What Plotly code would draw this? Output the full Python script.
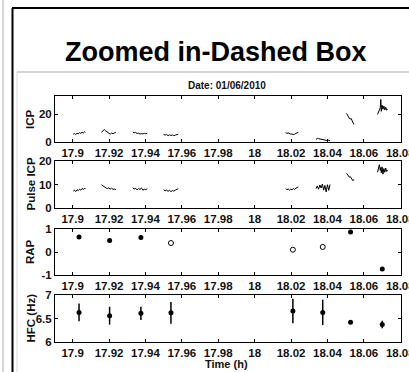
import plotly.graph_objects as go

# ---------------- data ----------------
x_tick_vals = [17.9, 17.92, 17.94, 17.96, 17.98, 18.0, 18.02, 18.04, 18.06, 18.08]
x_tick_text = ["17.9", "17.92", "17.94", "17.96", "17.98", "18", "18.02", "18.04", "18.06", "18.08"]

# time stamps of the continuous recordings (None = gap between segments)
icp_time = [
    17.9003, 17.9010, 17.9017, 17.9024, 17.9031, 17.9038, 17.9045, 17.9052, 17.9059, 17.9066, 17.9070, None,
    17.9158, 17.9166, 17.9174, 17.9182, 17.9190, 17.9198, 17.9206, 17.9214, 17.9222, 17.9230, 17.9238, None,
    17.9330, 17.9338, 17.9346, 17.9354, 17.9362, 17.9370, 17.9378, 17.9386, 17.9394, 17.9402, 17.9410, None,
    17.9500, 17.9508, 17.9516, 17.9524, 17.9532, 17.9540, 17.9548, 17.9556, 17.9564, 17.9572, 17.9580, None,
    18.0170, 18.0177, 18.0184, 18.0191, 18.0198, 18.0205, 18.0212, 18.0219, 18.0226, 18.0233, 18.0240, None,
    18.0337, 18.0344, 18.0351, 18.0358, 18.0365, 18.0372, 18.0379, 18.0386, 18.0393, 18.0400, 18.0407, 18.0414, None,
    18.0505, 18.0510, 18.0515, 18.0520, 18.0525, 18.0530, 18.0535, 18.0540, 18.0545, None,
    18.0675, 18.0680, 18.0685, 18.0690, 18.0693, 18.0696, 18.0700, 18.0705, 18.0710, 18.0715, 18.0720, 18.0725, 18.0730,
]
icp_values = [
    5.6, 6.0, 5.4, 6.3, 5.9, 6.6, 6.2, 7.0, 6.5, 7.3, 6.9, None,
    7.0, 8.4, 8.9, 8.0, 7.2, 6.0, 5.6, 6.4, 5.9, 6.6, 6.8, None,
    7.2, 6.6, 6.9, 6.1, 6.3, 5.7, 6.0, 5.8, 6.2, 5.9, 6.4, None,
    5.4, 5.0, 5.3, 4.6, 5.1, 4.7, 5.0, 4.5, 4.9, 5.2, 5.6, None,
    6.8, 6.2, 6.5, 5.9, 5.6, 5.8, 5.3, 5.6, 6.0, 6.6, 7.0, None,
    1.8, 2.6, 2.4, 2.2, 2.0, 1.6, 1.8, 1.2, 1.5, 1.0, 1.3, 0.9, None,
    20.5, 19.6, 18.2, 16.8, 16.5, 16.9, 15.2, 13.6, 12.6, None,
    19.8, 21.5, 23.0, 24.5, 30.5, 22.0, 26.5, 23.5, 25.8, 23.0, 25.0, 22.8, 23.6,
]
pulse_icp_values = [
    7.2, 7.6, 7.0, 7.8, 7.4, 8.0, 7.6, 8.3, 7.9, 8.5, 8.1, None,
    9.9, 9.4, 8.9, 8.6, 8.2, 8.6, 8.0, 8.4, 7.9, 8.1, 7.8, None,
    8.6, 8.1, 8.4, 7.7, 8.3, 7.9, 8.5, 7.6, 8.0, 7.8, 8.2, None,
    7.8, 7.3, 7.6, 7.1, 7.5, 7.0, 7.4, 7.2, 7.6, 7.9, 8.2, None,
    8.2, 7.8, 8.1, 7.6, 8.0, 7.7, 8.3, 7.9, 8.4, 8.7, 9.0, None,
    8.2, 9.4, 8.0, 9.8, 8.5, 10.2, 7.6, 9.6, 6.8, 9.9, 7.5, 10.0, None,
    14.8, 14.2, 13.9, 13.1, 13.4, 12.6, 12.0, 11.6, 12.2, None,
    15.2, 17.8, 18.4, 16.0, 17.2, 15.0, 17.5, 14.4, 16.8, 15.2, 17.0, 15.5, 16.2,
]

# one value per recording segment
seg_time = [17.9035, 17.9203, 17.9375, 17.9540, 18.0210, 18.0374, 18.0527, 18.0701]
rap_values = [0.65, 0.50, 0.63, 0.39, 0.10, 0.22, 0.87, -0.74]
rap_significant = [True, True, True, False, False, False, True, True]
hfc_values = [6.63, 6.56, 6.61, 6.62, 6.66, 6.63, 6.42, 6.37]
hfc_std = [0.19, 0.19, 0.14, 0.23, 0.26, 0.27, 0.03, 0.08]

title_text = "Zoomed in-Dashed Box"
subtitle_text = "Date: 01/06/2010"
y_titles = ["ICP", "Pulse ICP", "RAP", "HFC (Hz)"]
x_title = "Time (h)"

# ---------------- layout helpers ----------------
W, H = 409, 372


def px(x):
    return x / W


def py(y):
    return 1 - y / H


TICK_FONT = dict(family="Liberation Sans Narrow, Arial Narrow, Liberation Sans, Arial",
                 size=11.5, color="#111111", weight="bold")

fig = go.Figure()

fig.add_trace(go.Scatter(x=icp_time, y=icp_values, mode="lines",
                         line=dict(color="black", width=1), connectgaps=False,
                         xaxis="x", yaxis="y", showlegend=False))
fig.add_trace(go.Scatter(x=icp_time, y=pulse_icp_values, mode="lines",
                         line=dict(color="black", width=1), connectgaps=False,
                         xaxis="x2", yaxis="y2", showlegend=False))

rap_sig_x = [t for t, s in zip(seg_time, rap_significant) if s]
rap_sig_y = [v for v, s in zip(rap_values, rap_significant) if s]
rap_ns_x = [t for t, s in zip(seg_time, rap_significant) if not s]
rap_ns_y = [v for v, s in zip(rap_values, rap_significant) if not s]
fig.add_trace(go.Scatter(x=rap_sig_x, y=rap_sig_y, mode="markers",
                         marker=dict(color="black", size=5),
                         xaxis="x3", yaxis="y3", showlegend=False))
fig.add_trace(go.Scatter(x=rap_ns_x, y=rap_ns_y, mode="markers",
                         marker=dict(color="white", size=5, line=dict(color="black", width=1)),
                         xaxis="x3", yaxis="y3", showlegend=False))

fig.add_trace(go.Scatter(x=seg_time, y=hfc_values, mode="markers",
                         marker=dict(color="black", size=5),
                         error_y=dict(type="data", array=hfc_std, color="black", thickness=1.5, width=0),
                         xaxis="x4", yaxis="y4", showlegend=False))

x_dom = [px(55), px(401)]
panels = [(96, 142), (161, 208), (229, 275), (295, 342)]
y_ranges = [[0, 33], [0, 20], [-1, 1], [6, 7]]
y_ticks = [[0, 20], [0, 10, 20], [-1, 0, 1], [6, 6.5, 7]]
y_ticktext = [["0", "20"], ["0", "10", "20"], ["-1", "0", "1"], ["6", "6.5", "7"]]

layout = dict(
    width=W, height=H, autosize=False,
    margin=dict(l=0, r=0, t=0, b=0, pad=0, autoexpand=False),
    paper_bgcolor="white", plot_bgcolor="white",
    showlegend=False,
)
for i, (top, bot) in enumerate(panels):
    sfx = "" if i == 0 else str(i + 1)
    layout["xaxis" + sfx] = dict(
        domain=x_dom, range=[17.8903, 18.0804], anchor="y" + sfx, automargin=False,
        tickvals=x_tick_vals, ticktext=x_tick_text, ticklabeloverflow="allow",
        ticks="inside", ticklen=3, tickcolor="black", tickwidth=1,
        showline=True, linecolor="black", linewidth=1, mirror="ticks",
        showgrid=False, zeroline=False, tickfont=TICK_FONT,
    )
    layout["yaxis" + sfx] = dict(
        domain=[py(bot), py(top)], range=y_ranges[i], anchor="x" + sfx, automargin=False,
        tickvals=y_ticks[i], ticktext=y_ticktext[i],
        ticks="inside", ticklen=3, tickcolor="black", tickwidth=1,
        showline=True, linecolor="black", linewidth=1, mirror="ticks",
        showgrid=False, zeroline=False, tickfont=TICK_FONT,
    )
fig.update_layout(**layout)

shapes = [
    dict(type="line", xref="paper", yref="paper", x0=px(3), x1=px(3), y0=0, y1=1,
         line=dict(color="#c8c8c8", width=1.5)),
    dict(type="line", xref="paper", yref="paper", x0=px(12.5), x1=px(12.5), y0=0, y1=py(8),
         line=dict(color="black", width=2)),
    dict(type="line", xref="paper", yref="paper", x0=px(12), x1=1, y0=py(8), y1=py(8),
         line=dict(color="black", width=2)),
    dict(type="line", xref="paper", yref="paper", x0=px(17), x1=1, y0=py(72), y1=py(72),
         line=dict(color="#aaaaaa", width=1)),
    dict(type="line", xref="paper", yref="paper", x0=px(17), x1=px(17), y0=0, y1=py(72),
         line=dict(color="#dddddd", width=1)),
]
fig.update_layout(shapes=shapes)

LABEL_FONT = dict(family="Liberation Sans Narrow, Arial Narrow, Liberation Sans, Arial",
                  size=11.5, color="#111111", weight="bold")
annotations = [
    dict(text=title_text, x=px(216), y=py(52), xref="paper", yref="paper",
         xanchor="center", yanchor="middle", showarrow=False,
         font=dict(family="Liberation Sans, Arial", size=27, color="black", weight="bold")),
    dict(text=subtitle_text, x=px(227), y=py(85), xref="paper", yref="paper",
         xanchor="center", yanchor="middle", showarrow=False,
         font=dict(family="Liberation Sans, Arial", size=10, color="#111111", weight="bold")),
    dict(text=x_title, x=px(227), y=py(364), xref="paper", yref="paper",
         xanchor="center", yanchor="middle", showarrow=False,
         font=dict(family="Liberation Sans Narrow, Arial Narrow, Liberation Sans, Arial",
                   size=11, color="#111111", weight="bold")),
]
for i, (top, bot) in enumerate(panels):
    annotations.append(dict(text=y_titles[i], x=px(30), y=py((top + bot) / 2),
                            xref="paper", yref="paper", xanchor="center", yanchor="middle",
                            textangle=-90, showarrow=False, font=LABEL_FONT))
fig.update_layout(annotations=annotations)

fig.write_html("out.html", config={"displayModeBar": False},
               post_script="document.body.style.margin='0';document.body.style.overflow='hidden';")
